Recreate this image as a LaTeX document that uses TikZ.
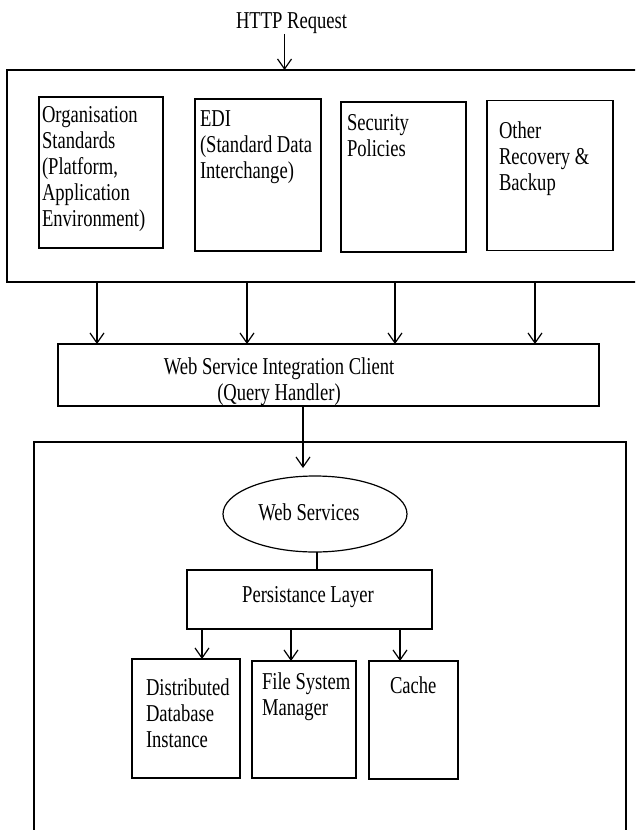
\documentclass[tikz,border=0pt]{standalone}
\usepackage{fontspec}
\setmainfont{Liberation Serif}
\usetikzlibrary{arrows.meta,shapes.geometric,calc}
\begin{document}
\begin{tikzpicture}[x=1pt,y=-1pt, line width=1.2pt,
 bx/.style 2 args={draw, rectangle, inner sep=0, outer sep=0, minimum width=#1, minimum height=#2},
 txt/.style={inner sep=0, outer sep=0, font=\fontsize{18.6}{20}\selectfont, yscale=1.3, align=left, anchor=north west},
 ctxt/.style={txt, align=center, anchor=center},
 arr/.style={-{Straight Barb[length=10pt,width=14pt]}}]
\useasboundingbox (0,0) rectangle (635,830);
\clip (0,0) rectangle (635,830);

% boxes
\node[bx={643pt}{212pt}] (top) at (328.5,176) {};
\node[bx={124pt}{151pt}] (b1) at (101,172.5) {};
\node[bx={126pt}{152pt}] (b2) at (258,175) {};
\node[bx={125pt}{150pt}] (b3) at (403.5,177) {};
\node[bx={126pt}{150pt}] (b4) at (550,175.5) {};
\node[bx={541pt}{62pt}] (wsic) at (328.5,375) {};
\node[bx={592pt}{408pt}] (lower) at (330,646) {};
\node[draw, ellipse, inner sep=0, outer sep=0, minimum width=184pt, minimum height=76pt] (ws) at (315,514) {};
\node[bx={245pt}{59pt}] (pl) at (309.5,599.5) {};
\node[bx={108pt}{119pt}] (ddi) at (186,718.5) {};
\node[bx={104pt}{117pt}] (fsm) at (304,719.5) {};
\node[bx={89pt}{118pt}] (cache) at (413.5,720) {};

% texts
\node[txt] (httpt) at (236,13) {HTTP Request};
\node[txt] (t1) at (42,106) {Organisation\\Standards\\(Platform,\\Application\\Environment)};
\node[txt] (t2) at (200,111) {EDI\\(Standard Data\\Interchange)};
\node[txt] (t3) at (347,114) {Security\\Policies};
\node[txt] (t4) at (499,122) {Other\\Recovery \&\\Backup};
\node[ctxt] (wsict) at (279,382) {Web Service Integration Client\\(Query Handler)};
\node[ctxt] (wst) at (309,512) {Web Services};
\node[ctxt] (plt) at (308,597.5) {Persistance Layer};
\node[txt] (t5) at (146,679) {Distributed\\Database\\Instance};
\node[txt] (t6) at (262,673) {File System\\Manager};
\node[txt] (t7) at (390,677) {Cache};

% connectors
\draw[arr] ([xshift=-7pt]httpt.south) -- ([xshift=-7pt]httpt.south |- top.north);
\foreach \x in {97,247,395,535}
  \draw[arr] (top.south -| \x,0) -- (wsic.north -| \x,0);
\draw[arr, shorten >=8pt] (wsic.south -| 303,0) -- (ws.north -| 303,0);
\draw (ws.south -| 317,0) -- (pl.north -| 317,0);
\draw[arr] (pl.south -| 202,0) -- (ddi.north -| 202,0);
\draw[arr] (pl.south -| 291,0) -- (fsm.north -| 291,0);
\draw[arr] (pl.south -| 400,0) -- (cache.north -| 400,0);
\end{tikzpicture}
\end{document}
